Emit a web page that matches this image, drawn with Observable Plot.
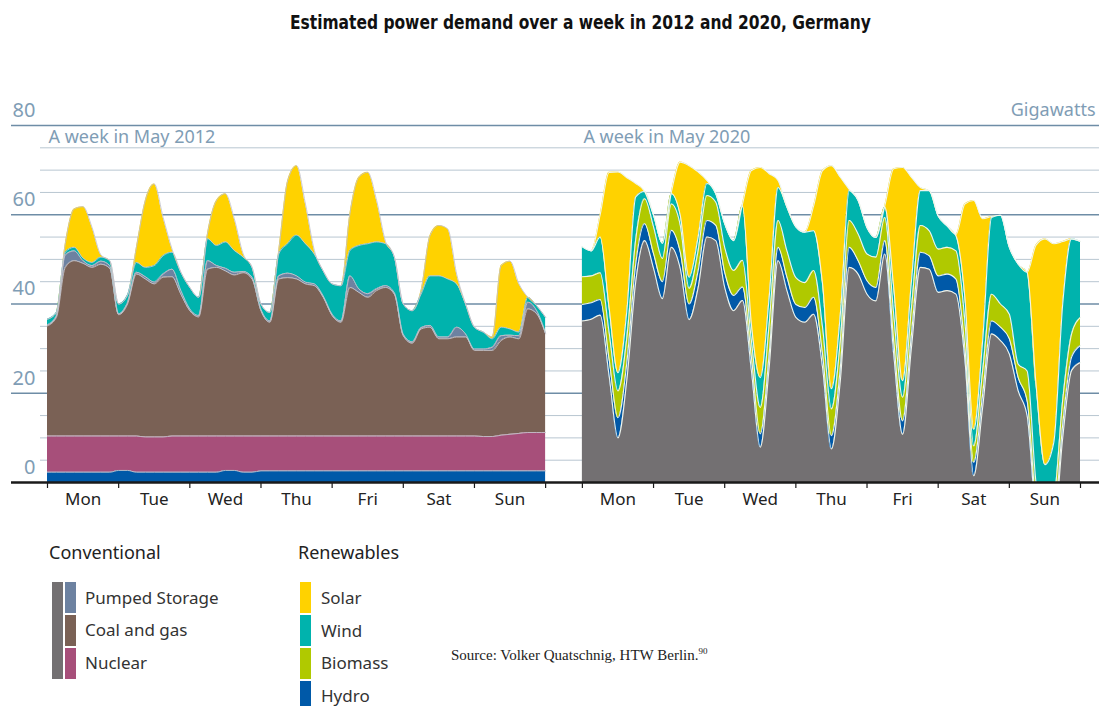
<!DOCTYPE html>
<html><head><meta charset="utf-8">
<script src="https://cdn.jsdelivr.net/npm/d3@7"></script>
<script src="https://cdn.jsdelivr.net/npm/@observablehq/plot@0.6"></script>
<style>
body{margin:0;background:#fff;width:1099px;height:706px;overflow:hidden;position:relative;font-family:"Noto Sans",sans-serif;}
#title{position:absolute;top:9px;left:0;width:1099px;padding-left:61px;box-sizing:border-box;text-align:center;line-height:26px}
#title span{display:inline-block;font-family:"DejaVu Sans",sans-serif;font-weight:bold;font-size:19px;letter-spacing:0;color:#111;transform:scaleX(0.815);transform-origin:center}
#chart{position:absolute;top:50px;left:0}
.lg{position:absolute;font-size:17px;line-height:22px;color:#333;white-space:nowrap}
.hd{position:absolute;font-size:18px;line-height:22px;color:#222;white-space:nowrap}
.sw{position:absolute;width:11px}
#source{position:absolute;left:451px;top:645px;font-family:"Liberation Serif","DejaVu Serif",serif;font-size:15px;color:#222;line-height:20px;white-space:nowrap}
#source sup{font-size:9px;vertical-align:6px;line-height:0}
</style></head><body>
<div id="title"><span>Estimated power demand over a week in 2012 and 2020, Germany</span></div>
<div id="chart"></div>
<div id="legend"></div>
<div id="source">Source: Volker Quatschnig, HTW Berlin.<sup>90</sup></div>
<script>
// ---- time axis (hours since Monday 00:00), one reading every 3 hours ----
const hours = [0,3,6,9,12,15,18,21,24,27,30,33,36,39,42,45,48,51,54,57,60,63,66,69,72,75,78,81,84,87,90,93,96,99,102,105,108,111,114,117,120,123,126,129,132,135,138,141,144,147,150,153,156,159,162,165,168];
const dayNames = ["Mon","Tue","Wed","Thu","Fri","Sat","Sun"];
const yLabels = [0,20,40,60,80];
const minorGrid = [5,10,15,25,30,35,45,50,55,65,70,75];
const majorGrid = [20,40,60,80];
const panelTitles = ["A week in May 2012","A week in May 2020"];

// ---- May 2012 (GW) ----
const hydro2012 = [2.3,2.3,2.3,2.3,2.3,2.3,2.3,2.3,2.7,2.7,2.3,2.3,2.3,2.3,2.3,2.3,2.3,2.3,2.3,2.3,2.7,2.7,2.3,2.3,2.6,2.6,2.6,2.6,2.6,2.6,2.6,2.6,2.6,2.6,2.6,2.6,2.6,2.6,2.6,2.6,2.6,2.6,2.6,2.6,2.6,2.6,2.6,2.6,2.6,2.6,2.6,2.6,2.6,2.6,2.6,2.6,2.6];
const nuclear2012 = [8.1,8.1,8.1,8.1,8.1,8.1,8.1,8.1,7.7,7.7,8.1,7.9,7.9,7.9,8.1,8.1,8.1,8.1,8.1,8.1,7.7,7.7,8.1,8.1,7.8,7.8,7.8,7.8,7.8,7.8,7.8,7.8,7.8,7.8,7.8,7.8,7.8,7.8,7.8,7.8,7.8,7.8,7.8,7.8,7.8,7.8,7.8,7.8,7.8,7.7,7.7,8.0,8.2,8.4,8.6,8.6,8.6];
const coal2012 = [24.7,26.6,37.8,39.3,38.7,37.8,38.5,37.6,27.2,29.6,36.3,35.4,34.3,35.8,35.7,31.8,28.1,26.7,37.4,37.8,37.0,36.1,36.6,35.2,28.1,25.5,35.2,35.5,35.2,34.1,33.7,31.1,27.0,25.5,33.3,32.2,31.1,32.6,33.3,31.8,22.5,20.8,24.0,24.4,21.8,21.8,22.2,22.2,19.2,19.3,19.3,21.2,21.8,21.2,27.7,26.6,22.1];
const pumped2012 = [0.2,0.3,2.8,2.2,0.6,0.4,0.7,0.6,0.2,0.3,0.4,0.5,0.4,0.7,1.7,0.8,0.4,0.3,1.9,0.4,0.6,0.6,0.3,0.4,0.3,0.3,0.7,1.0,0.7,0.4,0.4,0.3,0.3,0.3,2.6,0.8,0.8,0.4,0.4,0.3,0.3,0.3,0.3,0.4,0.4,0.4,2.2,0.7,0.3,0.3,0.7,1.1,0.4,0.7,1.5,0.7,0.2];
const wind2012 = [1.3,0.8,0.6,0.8,0.6,0.7,0.9,1.1,2.2,1.7,2.2,2.1,3.7,4.1,3.8,4.1,4.8,4.1,4.9,4.5,5.9,4.9,3.2,2.2,1.2,1.9,4.9,6.6,9.1,8.6,6.7,5.6,6.8,7.9,5.7,9.7,11.2,10.5,9.4,8.0,6.8,7.0,7.5,11.1,13.7,13.0,9.7,6.7,4.9,3.8,1.9,1.9,1.4,0.8,1.1,1.1,3.5];
const solar2012 = [0,0,1.9,8.6,11.5,7.9,0.5,0,0,0,3.4,15.0,18.3,8.6,0.7,0,0,0,1.3,10.1,10.8,7.1,0.7,0,0,0,0.8,14.1,15.6,8.9,0.8,0,0,0,8.2,15.3,16.0,9.3,0.5,0,0,0,0.8,9.0,11.3,11.2,2.2,0,0,0,0.4,13.8,15.2,10.8,0,0,0];

// ---- May 2020 (GW) ----
const conv2020 = [36.2,36.6,37.5,24.0,10.0,23.0,45.0,54.2,48.0,41.2,52.7,48.0,36.5,43.5,55.0,54.2,43.7,38.5,40.8,25.1,7.9,25.8,49.7,43.0,37.0,35.9,37.7,25.8,7.5,22.8,48.2,46.7,42.2,40.7,51.2,28.8,10.8,30.3,48.2,47.8,42.6,43.0,42.2,27.6,1.5,16.8,33.3,31.8,28.8,20.5,15.0,-8.0,-16.0,-12.0,10.0,25.1,26.9];
const hydro2020 = [3.7,3.7,3.5,3.7,4.5,3.9,4.0,3.8,3.3,3.8,3.8,3.7,3.5,3.8,3.7,3.4,3.4,3.4,3.0,3.0,3.0,3.0,3.0,3.0,2.9,3.3,3.8,3.0,3.0,3.0,4.5,3.0,3.0,3.0,3.0,3.0,3.0,3.0,3.4,3.0,3.7,3.7,3.4,2.7,3.0,3.0,2.9,3.0,3.4,3.0,3.3,2.5,2.5,2.5,3.0,3.0,3.8];
const bio2020 = [6.2,6.0,6.0,6.0,6.0,5.6,5.5,5.6,6.0,5.2,5.9,6.0,3.5,4.5,5.6,5.2,5.6,5.6,6.0,3.7,5.9,6.7,6.0,5.9,6.0,5.6,6.0,6.0,6.0,6.0,6.0,6.0,6.0,6.8,5.2,5.9,5.3,5.9,6.0,5.6,6.0,6.0,6.3,5.9,3.7,5.2,6.0,5.2,5.5,3.0,6.7,5.5,5.5,5.5,5.5,5.2,6.3];
const wind2020 = [6.7,5.6,8.0,5.5,4.1,6.0,9.5,1.6,2.6,3.4,2.3,2.2,2.5,3.0,2.7,1.9,5.3,6.7,12.2,3.7,6.7,6.0,7.4,9.8,11.4,11.3,8.9,9.7,4.5,5.9,6.7,7.5,5.9,4.4,2.3,6.0,3.7,6.0,7.8,9.0,7.4,4.8,3.4,5.3,3.7,6.8,17.2,19.9,15.0,22.4,22.1,22.0,12.0,13.0,21.5,21.3,17.0];
const solar2020 = [0,0,5.0,30.3,45.0,29.8,3.0,0,0,0,0.3,11.9,25.0,14.8,0.7,0,0,0,0.4,34.4,47.1,27.7,1.6,0,0,0,5.6,25.4,50.0,30.7,0.3,0,0,0,0.3,26.6,47.8,23.2,0.7,0,0,0,0.3,20.9,51.3,27.3,0.2,0,0,0,0,31.2,50.6,44.5,14.0,0,0];

// ---- colours ----
const layerColors = {
  "Hydro": "#0059a8", "Nuclear": "#a74f7a", "Coal and gas": "#7a6155", "Pumped Storage": "#6d82a1",
  "Wind": "#00b3ad", "Solar": "#ffd200", "Biomass": "#b0c900", "Conventional": "#737072"
};
const conventionalKeys = ["Pumped Storage","Coal and gas","Nuclear"];
const renewableKeys = ["Solar","Wind","Biomass","Hydro"];

// ---- layout of the two weeks on one hour axis ----
const weekHours = 168;
const gapHours = 12.4;
const weeks = [
  {year: "2012", offset: 0, layers: [["Hydro",hydro2012],["Nuclear",nuclear2012],["Coal and gas",coal2012],["Pumped Storage",pumped2012],["Wind",wind2012],["Solar",solar2012]]},
  {year: "2020", offset: weekHours + gapHours, layers: [["Conventional",conv2020],["Hydro",hydro2020],["Biomass",bio2020],["Wind",wind2020],["Solar",solar2020]]}
];
const rows = [];
for (const w of weeks) {
  hours.forEach((h, i) => {
    let cum = 0;
    for (const [name, vals] of w.layers) {
      const v = vals[i];
      rows.push({year: w.year, layer: name, key: w.year + name, x: h + w.offset, y1: cum, y2: cum + v});
      cum += v;
    }
  });
}
const rows2012 = rows.filter(d => d.year === "2012");
const rows2020 = rows.filter(d => d.year === "2020");
const tickHours = [], dayLabels = [], panels = [];
weeks.forEach((w, k) => {
  for (let d = 0; d <= 7; d++) tickHours.push(w.offset + 24 * d);
  dayNames.forEach((n, d) => dayLabels.push({x: w.offset + 24 * d + 12, name: n}));
  panels.push({x: w.offset, label: panelTitles[k]});
});
const xEnd = 2 * weekHours + gapHours;
const curve = "monotone-x";
const axisColor = "#7f9db5";

const chart = Plot.plot({
  width: 1099, height: 480,
  marginLeft: 11, marginRight: 0, marginTop: 75, marginBottom: 48,
  x: {domain: [0, xEnd], range: [47, 1080], axis: null, label: null},
  y: {domain: [0, 80], axis: null, label: null},
  color: {domain: Object.keys(layerColors), range: Object.values(layerColors)},
  style: {fontFamily: "Noto Sans, sans-serif", background: "white", overflow: "visible"},
  marks: [
    Plot.ruleY(minorGrid, {stroke: "#b8c6d1", strokeWidth: 1, insetLeft: 29}),
    Plot.ruleY(majorGrid, {stroke: "#6e8da6", strokeWidth: 1.3}),
    Plot.area(rows, {x1: "x", y1: "y1", y2: "y2", z: "key", fill: "layer", curve, clip: true}),
    Plot.line(rows2012, {x: "x", y: "y2", z: "key", stroke: "#c4c4cc", strokeWidth: 0.9, curve, clip: true}),
    Plot.line(rows2020, {x: "x", y: "y2", z: "key", stroke: "#eef5ee", strokeWidth: 1.1, curve, clip: true}),
    Plot.ruleY([0], {stroke: "#1a1a1a", strokeWidth: 2.6}),
    Plot.axisX(tickHours, {tickSize: 6, tickFormat: () => "", label: null, stroke: "#1a1a1a", strokeWidth: 1.2}),
    Plot.text(dayLabels, {x: "x", text: "name", frameAnchor: "bottom", dy: 22, fontSize: 17, fill: "#222"}),
    Plot.text(yLabels, {y: d => d, text: d => String(d), frameAnchor: "left", textAnchor: "end", dx: 24, dy: -15, fontSize: 20, fill: axisColor}),
    Plot.text(["Gigawatts"], {y: () => 80, text: d => d, frameAnchor: "right", textAnchor: "end", dx: -4, dy: -15, fontSize: 18, fill: axisColor}),
    Plot.text(panels, {x: "x", y: () => 80, text: "label", textAnchor: "start", dx: 1, dy: 12, fontSize: 18, fill: axisColor})
  ]
});
document.getElementById("chart").appendChild(chart);

// ---- legend ----
const lg = document.getElementById("legend");
function add(cls, text, left, top, extra) {
  const e = document.createElement("div");
  e.className = cls;
  if (text) e.textContent = text;
  e.style.left = left + "px"; e.style.top = top + "px";
  if (extra) Object.assign(e.style, extra);
  lg.appendChild(e);
}
add("hd", "Conventional", 49, 541);
add("hd", "Renewables", 298, 541);
add("sw", "", 52, 582, {height: "97px", background: layerColors["Conventional"]});
conventionalKeys.forEach((k, i) => {
  add("sw", "", 65, 582 + i * 33, {height: "31px", background: layerColors[k]});
  add("lg", k, 85, 587 + i * 32.3);
});
renewableKeys.forEach((k, i) => {
  add("sw", "", 300, 582 + i * 33, {height: "31px", background: layerColors[k]});
  add("lg", k, 321, 587 + i * 32.5);
});
</script>
</body></html>
